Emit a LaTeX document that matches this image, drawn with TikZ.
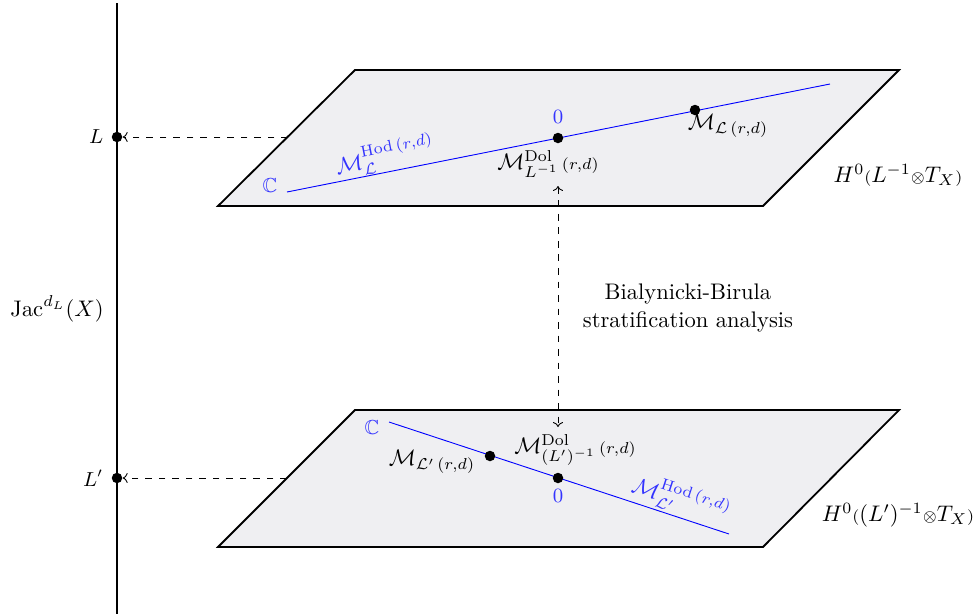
\documentclass[tikz,border=0pt]{standalone}
\usepackage{amsmath,amssymb}
\usetikzlibrary{arrows.meta}
\definecolor{planefill}{RGB}{239,239,242}
\tikzset{
  plane/.style={draw=black,thick,fill=planefill},
  dotnode/.style={circle,fill=black,inner sep=0pt,minimum size=10.5pt*0.444},
  bluelab/.style={text=blue!80,inner sep=1pt},
  blacklab/.style={text=black,inner sep=1pt},
  proj/.style={dashed,-{To[length=2.2pt,width=4.4pt]}},
  bothproj/.style={dashed,{To[length=2.2pt,width=4.4pt]}-{To[length=2.2pt,width=4.4pt]}},
}
\begin{document}
\begin{tikzpicture}[x=0.444pt,y=-0.444pt]
\useasboundingbox (0,0) rectangle (977,614);
% Jacobian axis
\coordinate (axtop) at (117,3);
\coordinate (axbot) at (117,614);
\draw[line width=0.9pt] (axtop) -- (axbot);
\node[dotnode] (Ldot) at (117,137) {};
\node[dotnode] (Lpdot) at (117,478) {};
\node[blacklab,anchor=east,font=\small] (Llab) at (106,137) {$L$};
\node[blacklab,anchor=east,font=\small] (Lplab) at (106,478) {$L'$};
\node[blacklab] (jac) at (57,309) {$\mathrm{Jac}^{d_L}(X)$};
% planes
\draw[plane] (218,206) -- (355,70) -- (899,70) -- (763,206) -- cycle;
\draw[plane] (218,547) -- (355,410) -- (899,410) -- (763,547) -- cycle;
% top plane content
\coordinate (tA) at (287,192);
\coordinate (tB) at (830,84);
\draw[blue] (tA) -- (tB);
\node[dotnode] (t0) at (558,138) {};
\node[dotnode] (tM) at (695,110) {};
\node[bluelab,font=\small] (tC) at (270,186) {$\mathbb{C}$};
\node[bluelab,font=\small] (t0lab) at (558,117) {$0$};
\node[bluelab,rotate=11.25] (tHod) at (385,156) {$\mathcal{M}^{\mathrm{Hod}\,(r,d)}_{\mathcal{L}}$};
\node[blacklab] (tDol) at (548,164) {$\mathcal{M}^{\mathrm{Dol}}_{L^{-1}}{\scriptstyle\,(r,d)}$};
\node[blacklab] (tMlab) at (728,126) {$\mathcal{M}_{\mathcal{L}\,(r,d)}$};
\node[blacklab] (tH) at (898,175) {$H^0{\scriptstyle(}L^{-1}{\scriptstyle\otimes}T_X{\scriptstyle)}$};
% bottom plane content
\coordinate (bA) at (389,422);
\coordinate (bB) at (729,534);
\draw[blue] (bA) -- (bB);
\node[dotnode] (bM) at (490,456) {};
\node[dotnode] (b0) at (558,478) {};
\node[bluelab,font=\small] (bC) at (372,428) {$\mathbb{C}$};
\node[bluelab,font=\small] (b0lab) at (558,496) {$0$};
\node[bluelab,rotate=-18.2] (bHod) at (681,499) {$\mathcal{M}^{\mathrm{Hod}\,(r,d)}_{\mathcal{L}'}$};
\node[blacklab] (bDol) at (575,450) {$\mathcal{M}^{\mathrm{Dol}}_{(L')^{-1}}{\scriptstyle\,(r,d)}$};
\node[blacklab] (bMlab) at (432,462) {$\mathcal{M}_{\mathcal{L}'\,(r,d)}$};
\node[blacklab] (bH) at (898,515) {$H^0{\scriptstyle(}(L')^{-1}{\scriptstyle\otimes}T_X{\scriptstyle)}$};
% projections
\coordinate (tEdge) at (288,137);
\coordinate (bEdge) at (287,478);
\draw[proj] (tEdge) -- (Ldot);
\draw[proj] (bEdge) -- (Lpdot);
\coordinate (vtop) at (558,186);
\coordinate (vbot) at (558,427);
\draw[bothproj] (vtop) -- (vbot);
\node[blacklab,align=center] (bb) at (688,308) {Bialynicki-Birula\\stratification analysis};
\end{tikzpicture}
\end{document}
